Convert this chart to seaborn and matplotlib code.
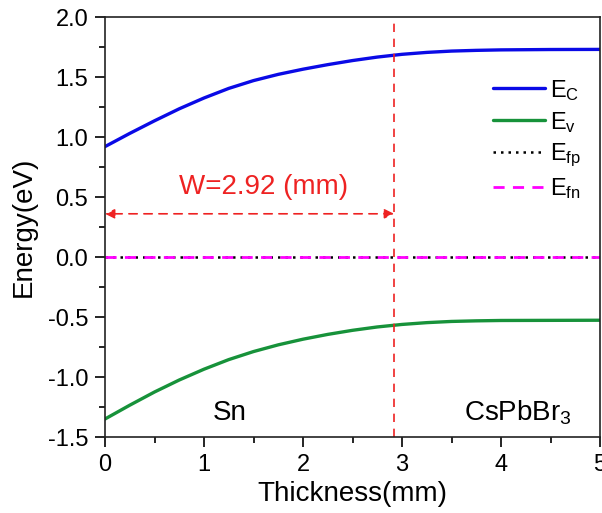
import matplotlib
matplotlib.use("Agg")
import matplotlib.pyplot as plt
from matplotlib.ticker import MultipleLocator, FormatStrFormatter
import seaborn as sns
import pandas as pd

# Band-edge profile across the Sn / CsPbBr3 junction
thickness = [0.0, 0.25, 0.5, 0.75, 1.0, 1.25, 1.5, 1.75, 2.0, 2.25, 2.5,
             2.75, 3.0, 3.25, 3.5, 3.75, 4.0, 4.5, 5.0]
e_c = [0.92, 1.03, 1.135, 1.235, 1.325, 1.405, 1.47, 1.522, 1.565, 1.603,
       1.637, 1.666, 1.689, 1.705, 1.716, 1.722, 1.726, 1.729, 1.73]
e_v = [-1.35, -1.235, -1.125, -1.025, -0.935, -0.855, -0.788, -0.732, -0.685,
       -0.645, -0.611, -0.583, -0.562, -0.547, -0.537, -0.532, -0.529, -0.528,
       -0.527]
fermi_x = [0.0, 5.0]
e_fp = [0.0, 0.0]
e_fn = [0.0, 0.0]
depletion_width = 2.92
arrow_level = 0.36

sns.set_theme(style="ticks")
plt.rcParams["font.family"] = ["Liberation Sans", "DejaVu Sans"]
plt.rcParams["axes.unicode_minus"] = False
plt.rcParams["mathtext.default"] = "regular"
plt.rcParams["text.color"] = "black"
plt.rcParams["axes.labelcolor"] = "black"

fig = plt.figure(figsize=(6.02, 5.13), dpi=100)
ax = fig.add_axes([105 / 602, 76 / 513, 495 / 602, 420 / 513])

bands = pd.DataFrame({"x": thickness, "Ec": e_c, "Ev": e_v})
levels = pd.DataFrame({"x": fermi_x, "Efp": e_fp, "Efn": e_fn})

sns.lineplot(data=bands, x="x", y="Ec", ax=ax, color="#0a0ae6", lw=2.4,
             label="$E_C$")
sns.lineplot(data=bands, x="x", y="Ev", ax=ax, color="#17923a", lw=2.4,
             label="$E_v$")
sns.lineplot(data=levels, x="x", y="Efp", ax=ax, color="black", lw=1.8,
             ls=(0, (1, 2)), label="$E_{fp}$")
sns.lineplot(data=levels, x="x", y="Efn", ax=ax, color="#ff00ff", lw=2.0,
             ls=(0, (4, 3)), label="$E_{fn}$")

# Depletion region boundary and width marker
red = "#ee2222"
ax.axvline(depletion_width, color=red, lw=1.2, ls=(0, (5, 4)))
ax.annotate("", xy=(0, arrow_level), xytext=(depletion_width, arrow_level),
            arrowprops=dict(arrowstyle="<|-|>", color=red, lw=1.2,
                            ls=(0, (5, 4)), mutation_scale=14,
                            shrinkA=0, shrinkB=0),
            annotation_clip=False)
ax.text(1.6, 0.585, f"W={depletion_width:.2f} (mm)", color=red, fontsize=20,
        ha="center", va="center")

ax.text(1.26, -1.30, "Sn", fontsize=20, ha="center", va="center")
ax.text(4.17, -1.30, "CsPbBr$_3$", fontsize=20, ha="center", va="center")

ax.set_xlim(0, 5)
ax.set_ylim(-1.5, 2.0)
ax.xaxis.set_major_locator(MultipleLocator(1))
ax.xaxis.set_minor_locator(MultipleLocator(0.5))
ax.yaxis.set_major_locator(MultipleLocator(0.5))
ax.yaxis.set_minor_locator(MultipleLocator(0.25))
ax.yaxis.set_major_formatter(FormatStrFormatter("%.1f"))
ax.tick_params(which="major", length=7, width=1.2, labelsize=17, color="black",
               labelcolor="black", pad=5)
ax.tick_params(which="minor", length=4, width=1.2, color="black")
ax.tick_params(top=False, right=False, which="both")
for side in ["left", "right", "top", "bottom"]:
    ax.spines[side].set_visible(True)
    ax.spines[side].set_color("#222222")
    ax.spines[side].set_linewidth(1.2)

ax.set_xlabel("Thickness(mm)", fontsize=20, labelpad=4)
ax.set_ylabel("Energy(eV)", fontsize=20, labelpad=8)

ax.legend(loc="upper left", bbox_to_anchor=(0.765, 0.878), frameon=False,
          fontsize=17, handlelength=2.2, handletextpad=0.2, labelspacing=0.3,
          borderaxespad=0)

fig.savefig("out.png", dpi=100, facecolor="white")
